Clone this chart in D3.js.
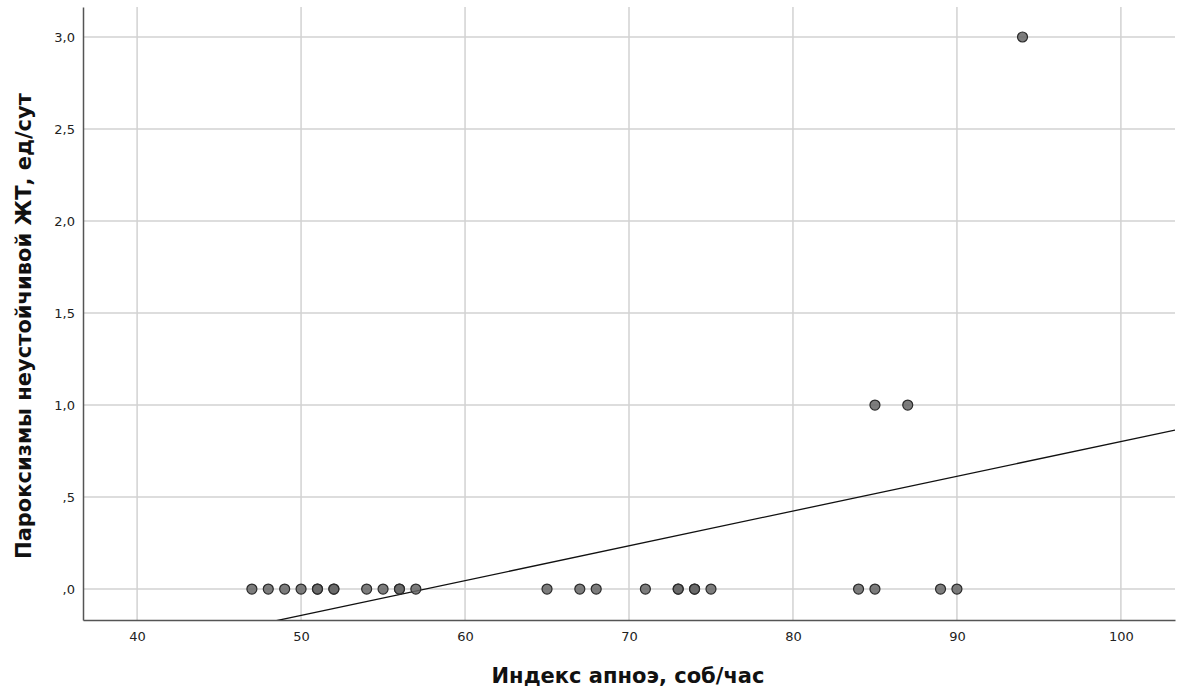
<!DOCTYPE html>
<html>
<head>
<meta charset="utf-8">
<script src="https://cdn.jsdelivr.net/npm/d3@7"></script>
<style>
  body { margin: 0; background: #fff; }
  text { font-family: "DejaVu Sans", sans-serif; }
</style>
</head>
<body>
<div id="chart"></div>
<script>
// apnea index (x) and VT paroxysms per day (y)
var apneaIndex = [47, 48, 49, 50, 51, 51, 52, 52, 54, 55, 56, 56, 57,
                  65, 67, 68, 71, 73, 73, 74, 74, 75, 84, 85, 89, 90,
                  85, 87, 94];
var paroxysms  = [0, 0, 0, 0, 0, 0, 0, 0, 0, 0, 0, 0, 0,
                  0, 0, 0, 0, 0, 0, 0, 0, 0, 0, 0, 0, 0,
                  1, 1, 3];
var xTicks = [40, 50, 60, 70, 80, 90, 100];
var yTicks = [0, 0.5, 1, 1.5, 2, 2.5, 3];
var yTickLabels = [",0", ",5", "1,0", "1,5", "2,0", "2,5", "3,0"];
// fit line
var fitSlope = 0.0189;
var fitIntercept = -1.088;

function init(){
    var w = 1179, h = 693;
    var m = {left: 83, right: 4, top: 7, bottom: 73};

    var x = d3.scaleLinear()
              .domain([36.7, 103.3])
              .range([m.left, w - m.right]);
    var y = d3.scaleLinear()
              .domain([-0.168, 3.163])
              .range([h - m.bottom, m.top]);

    var svg = d3.select("#chart")
                .append("svg")
                .attr("width", w)
                .attr("height", h);

    svg.append("clipPath").attr("id", "plot")
       .append("rect")
       .attr("x", m.left).attr("y", m.top)
       .attr("width", w - m.left - m.right)
       .attr("height", h - m.top - m.bottom);

    // grid
    svg.selectAll("line.vgrid")
       .data(xTicks)
       .enter()
       .append("line")
       .attr("class", "vgrid")
       .attr("x1", function(d){ return x(d); })
       .attr("x2", function(d){ return x(d); })
       .attr("y1", m.top)
       .attr("y2", h - m.bottom)
       .attr("stroke", "#d2d2d2")
       .attr("stroke-width", 1.5);

    svg.selectAll("line.hgrid")
       .data(yTicks)
       .enter()
       .append("line")
       .attr("class", "hgrid")
       .attr("x1", m.left)
       .attr("x2", w - m.right)
       .attr("y1", function(d){ return y(d); })
       .attr("y2", function(d){ return y(d); })
       .attr("stroke", "#d2d2d2")
       .attr("stroke-width", 1.5);

    // axes
    var xAxis = d3.axisBottom(x).tickValues(xTicks).tickSize(0).tickPadding(12);
    var yAxis = d3.axisLeft(y).tickValues(yTicks).tickSize(0).tickPadding(8)
                  .tickFormat(function(d, i){ return yTickLabels[i]; });

    var gx = svg.append("g")
                .attr("transform", "translate(0," + (h - m.bottom) + ")")
                .call(xAxis);
    var gy = svg.append("g")
                .attr("transform", "translate(" + m.left + ",0)")
                .call(yAxis);

    [gx, gy].forEach(function(g){
        g.select(".domain").attr("stroke", "#555").attr("stroke-width", 1.5);
        g.selectAll("text")
         .style("font-size", "13px")
         .style("font-family", "DejaVu Sans, sans-serif")
         .attr("fill", "#222");
    });

    // fit line
    var dom = x.domain();
    svg.append("line")
       .attr("clip-path", "url(#plot)")
       .attr("x1", x(dom[0]))
       .attr("y1", y(fitIntercept + fitSlope * dom[0]))
       .attr("x2", x(dom[1]))
       .attr("y2", y(fitIntercept + fitSlope * dom[1]))
       .attr("stroke", "#111")
       .attr("stroke-width", 1.3);

    // points
    svg.selectAll("circle")
       .data(apneaIndex)
       .enter()
       .append("circle")
       .attr("cx", function(d){ return x(d); })
       .attr("cy", function(d, i){ return y(paroxysms[i]); })
       .attr("r", 5)
       .attr("fill", "#666")
       .attr("fill-opacity", 0.85)
       .attr("stroke", "#2a2a2a")
       .attr("stroke-width", 1.2);

    // titles
    svg.append("text")
       .attr("x", 628)
       .attr("y", 683)
       .attr("text-anchor", "middle")
       .style("font-size", "21px")
       .style("font-weight", "bold")
       .attr("fill", "#111")
       .text("Индекс апноэ, соб/час");

    svg.append("text")
       .attr("transform", "translate(31," + 326 + ") rotate(-90)")
       .attr("text-anchor", "middle")
       .style("font-size", "21px")
       .style("font-weight", "bold")
       .attr("fill", "#111")
       .text("Пароксизмы неустойчивой ЖТ, ед/сут");
}

window.onload = init;
</script>
</body>
</html>
